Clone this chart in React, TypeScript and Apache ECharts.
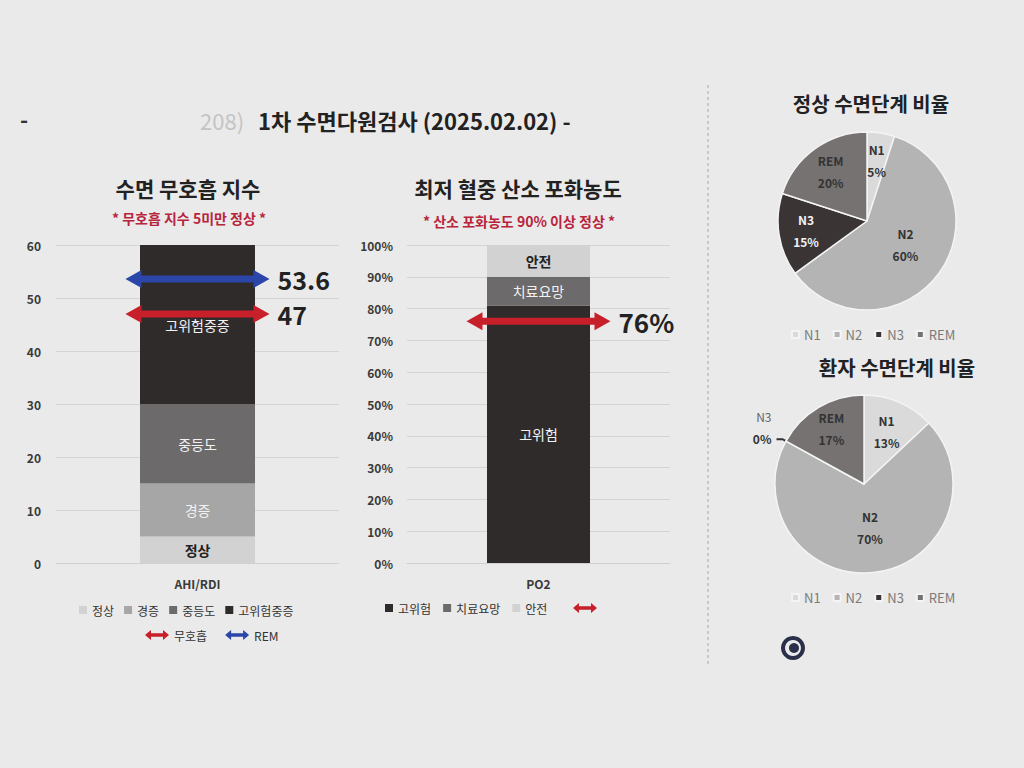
import React, { useEffect, useRef } from 'react';
import * as echarts from 'echarts';

// ---------- data ----------
const ahiCategory = ['AHI/RDI'];
const ahiLevels = ['정상', '경증', '중등도', '고위험중증'];
const ahiSegments = [5, 10, 15, 30];
const ahiMarkerNames = ['무호흡', 'REM 무호흡'];
const ahiMarkerValues = [47, 53.6];

const spo2Category = ['PO2'];
const spo2Levels = ['고위험', '치료요망', '안전'];
const spo2Segments = [81, 9, 10];
const spo2MarkerName = 'SpO2 최저';
const spo2MarkerValue = 76;

const stageNames = ['N1', 'N2', 'N3', 'REM'];
const normalStages = [5, 60, 15, 20];
const patientStages = [13, 70, 0, 17];

// ---------- styles ----------
const FONT = '"Noto Sans CJK KR", "Noto Sans", sans-serif';
const ahiColors = ['#d2d2d2', '#a6a6a6', '#6c6a6a', '#2f2b2b'];
const ahiLabelColors = ['#222', '#f2f2f2', '#f2f2f2', '#f2f2f2'];
const spo2Colors = ['#2f2b2b', '#6c6a6a', '#d2d2d2'];
const spo2LabelColors = ['#f2f2f2', '#f2f2f2', '#222'];
const markerColors = ['#c8202a', '#2b46a8'];
const stageColors = ['#dadada', '#b4b4b4', '#3a3434', '#767272'];
const pie1Center = [867, 221];
const pie2Center = [864, 484];
const pie1LabelPush = [1.3, 1.0, 1.3, 1.3];
const pie2LabelPush = [1.2, 1.0, 1.0, 1.35];
const ARROW_ICON = 'path://M0,5 L6,0 L6,3.2 L18,3.2 L18,0 L24,5 L18,10 L18,6.8 L6,6.8 L6,10 Z';

function arrowRender(suffix: string, fontSize: number) {
  return (params: any, api: any) => {
    const c = api.coord([api.value(0), api.value(1)]);
    const color = api.visual('color');
    const half = 72, head = 16, hh = 9, sw = 7;
    const x0 = c[0] - half, x1 = c[0] + half, y = c[1];
    return {
      type: 'group',
      children: [
        { type: 'rect', shape: { x: x0 + head - 1, y: y - sw / 2, width: 2 * half - 2 * head + 2, height: sw }, style: { fill: color } },
        { type: 'polygon', shape: { points: [[x0, y], [x0 + head, y - hh], [x0 + head, y + hh]] }, style: { fill: color } },
        { type: 'polygon', shape: { points: [[x1, y], [x1 - head, y - hh], [x1 - head, y + hh]] }, style: { fill: color } },
        {
          type: 'text',
          style: {
            text: String(api.value(1)) + suffix, x: x1 + 8, y: y,
            fill: '#222', font: `bold ${fontSize}px ${FONT}`,
            align: 'left', verticalAlign: 'middle', textAlign: 'left', textVerticalAlign: 'middle',
          },
        },
      ],
    };
  };
}

function pushLabels(center: number[], factors: number[], extraDy: number[]) {
  return (p: any) => {
    const r = p.labelRect;
    const lx = r.x + r.width / 2, ly = r.y + r.height / 2;
    const f = factors[p.dataIndex];
    if (p.dataIndex === 2 && extraDy[2] !== 0) return { dy: extraDy[2] };
    return { dx: (lx - center[0]) * (f - 1), dy: (ly - center[1]) * (f - 1) + extraDy[p.dataIndex] };
  };
}

function gText(text: string, x: number, y: number, size: number, color: string, weight = 'bold', align = 'center') {
  return {
    type: 'text', x, y, silent: true,
    style: {
      text, fill: color, font: `${weight} ${size}px ${FONT}`,
      align, verticalAlign: 'middle', textAlign: align, textVerticalAlign: 'middle',
    },
  };
}

const axisLabelStyle = { color: '#3a3a3a', fontSize: 12, fontWeight: 'bold', fontFamily: FONT };
const legendText = { color: '#333', fontSize: 12, fontFamily: FONT };
const pieLegendText = { color: '#7a7a7a', fontSize: 13, fontFamily: FONT };

const option: any = {
  animation: false,
  backgroundColor: '#eaeaea',
  textStyle: { fontFamily: FONT },
  graphic: [
    gText('-', 20, 118, 22, '#333', 'bold', 'left'),
    gText('208)', 200, 120, 22, '#c4c4c4', 'normal', 'left'),
    gText('1차 수면다원검사 (2025.02.02) -', 258, 120, 22, '#222', 'bold', 'left'),
    gText('수면 무호흡 지수', 188, 188, 21, '#222'),
    gText('* 무호흡 지수 5미만 정상 *', 189, 218, 14, '#b8243c'),
    gText('최저 혈중 산소 포화농도', 518, 188, 21, '#222'),
    gText('* 산소 포화농도 90% 이상 정상 *', 519, 221, 14, '#b8243c'),
    gText('정상 수면단계 비율', 871, 103, 20, '#222'),
    gText('환자 수면단계 비율', 897, 367, 20, '#222'),
    { type: 'line', shape: { x1: 708, y1: 85, x2: 708, y2: 665 }, style: { stroke: '#a8a8a8', lineWidth: 1, lineDash: [3, 3] }, silent: true },
    { type: 'ring', shape: { cx: 793, cy: 648, r: 12, r0: 8 }, style: { fill: '#2a2f4a' }, silent: true },
    { type: 'circle', shape: { cx: 794, cy: 648, r: 5 }, style: { fill: '#2a2f4a' }, silent: true },
  ],
  legend: [
    {
      data: ahiLevels, left: 74, top: 599, itemWidth: 8, itemHeight: 8, itemGap: 10, icon: 'rect',
      textStyle: legendText,
    },
    {
      data: ahiMarkerNames.map((n) => ({ name: n, icon: ARROW_ICON })), left: 140, top: 624,
      itemWidth: 24, itemHeight: 10, itemGap: 18,
      formatter: (n: string) => (n === 'REM 무호흡' ? 'REM' : n),
      textStyle: legendText,
    },
    {
      data: spo2Levels, left: 380, top: 597, itemWidth: 8, itemHeight: 8, itemGap: 12, icon: 'rect',
      textStyle: legendText,
    },
    {
      data: [{ name: spo2MarkerName, icon: ARROW_ICON }], left: 568, top: 598,
      itemWidth: 24, itemHeight: 10, formatter: () => '',
      textStyle: legendText,
    },
    {
      data: stageNames, left: 786, top: 323, itemWidth: 7, itemHeight: 7, itemGap: 12, icon: 'rect',
      textStyle: pieLegendText,
    },
    {
      data: stageNames, left: 786, top: 586, itemWidth: 7, itemHeight: 7, itemGap: 12, icon: 'rect',
      textStyle: pieLegendText,
    },
  ],
  grid: [
    { left: 56, top: 245, width: 283, height: 318 },
    { left: 407, top: 245, width: 263, height: 318 },
  ],
  xAxis: [
    {
      gridIndex: 0, type: 'category', data: ahiCategory,
      axisLine: { lineStyle: { color: '#d0d0d0' } }, axisTick: { show: false },
      axisLabel: { ...axisLabelStyle, margin: 14 },
    },
    {
      gridIndex: 1, type: 'category', data: spo2Category,
      axisLine: { lineStyle: { color: '#d0d0d0' } }, axisTick: { show: false },
      axisLabel: { ...axisLabelStyle, margin: 14 },
    },
  ],
  yAxis: [
    {
      gridIndex: 0, type: 'value', min: 0, max: 60, interval: 10,
      axisLabel: { ...axisLabelStyle, margin: 15 },
      splitLine: { lineStyle: { color: '#d4d4d4' } },
    },
    {
      gridIndex: 1, type: 'value', min: 0, max: 100, interval: 10,
      axisLabel: { ...axisLabelStyle, margin: 14, formatter: '{value}%' },
      splitLine: { lineStyle: { color: '#d4d4d4' } },
    },
  ],
  series: [
    ...ahiLevels.map((name, i) => ({
      name, type: 'bar', xAxisIndex: 0, yAxisIndex: 0, stack: 'ahi', barWidth: 115,
      data: [ahiSegments[i]],
      itemStyle: { color: ahiColors[i] },
      label: {
        show: true, position: 'inside', formatter: name,
        color: ahiLabelColors[i], fontSize: 14, fontFamily: FONT, fontWeight: i === 0 ? 'bold' : 'normal',
      },
    })),
    ...ahiMarkerNames.map((name, i) => ({
      name, type: 'custom', xAxisIndex: 0, yAxisIndex: 0, z: 5,
      itemStyle: { color: markerColors[i] },
      data: [[0, ahiMarkerValues[i]]],
      renderItem: arrowRender('', 25),
    })),
    ...spo2Levels.map((name, i) => ({
      name, type: 'bar', xAxisIndex: 1, yAxisIndex: 1, stack: 'spo2', barWidth: 103,
      data: [spo2Segments[i]],
      itemStyle: { color: spo2Colors[i] },
      label: {
        show: true, position: 'inside', formatter: name,
        color: spo2LabelColors[i], fontSize: 14, fontFamily: FONT, fontWeight: i === 2 ? 'bold' : 'normal',
      },
    })),
    {
      name: spo2MarkerName, type: 'custom', xAxisIndex: 1, yAxisIndex: 1, z: 5,
      itemStyle: { color: markerColors[0] },
      data: [[0, spo2MarkerValue]],
      renderItem: arrowRender('%', 26),
    },
    {
      name: '정상 수면단계', type: 'pie', center: pie1Center, radius: 89, startAngle: 90,
      itemStyle: { borderColor: '#f4f4f4', borderWidth: 1.5 },
      label: {
        show: true, position: 'inside', formatter: '{b}\n{c}%', lineHeight: 22,
        fontSize: 12, fontWeight: 'bold', fontFamily: FONT, color: '#333',
      },
      labelLayout: pushLabels(pie1Center, pie1LabelPush, [0, -4, 0, 0]),
      data: stageNames.map((n, i) => ({
        name: n, value: normalStages[i], itemStyle: { color: stageColors[i] },
        label: n === 'N3' ? { color: '#f2f2f2' } : undefined,
      })),
    },
    {
      name: '환자 수면단계', type: 'pie', center: pie2Center, radius: 89, startAngle: 90,
      itemStyle: { borderColor: '#f4f4f4', borderWidth: 1.5 },
      label: {
        show: true, position: 'inside', formatter: '{b}\n{c}%', lineHeight: 22,
        fontSize: 12, fontWeight: 'bold', fontFamily: FONT, color: '#333',
      },
      labelLayout: pushLabels(pie2Center, pie2LabelPush, [0, -4, -12, 0]),
      data: stageNames.map((n, i) => ({
        name: n, value: patientStages[i], itemStyle: { color: stageColors[i] },
        label: n === 'N3'
          ? { position: 'outside', color: '#333', formatter: '{n|{b}}\n{c}%', rich: { n: { color: '#666', fontWeight: 'normal', fontSize: 12 } } }
          : undefined,
        labelLine: n === 'N3' ? { show: true, length: 4, length2: 6, lineStyle: { color: '#333', width: 2 } } : undefined,
      })),
    },
  ],
};

export default function App() {
  const ref = useRef<HTMLDivElement>(null);
  useEffect(() => {
    document.body.style.margin = '0';
    const chart = echarts.init(ref.current!, null, { renderer: 'svg' });
    chart.setOption(option);
    return () => chart.dispose();
  }, []);
  return <div ref={ref} style={{ width: 1024, height: 768 }} />;
}
